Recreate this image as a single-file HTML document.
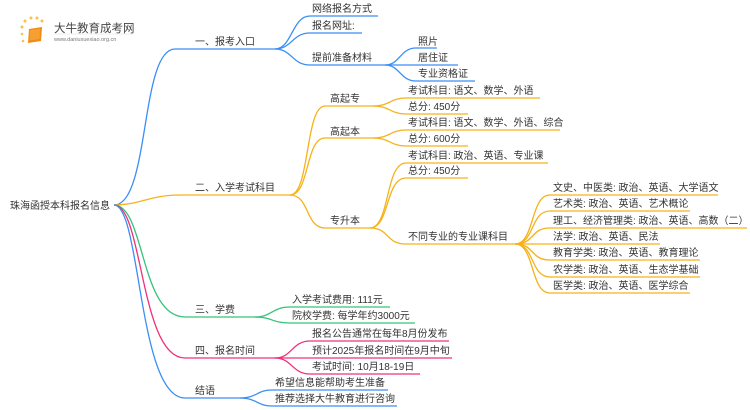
<!DOCTYPE html>
<html><head><meta charset="utf-8"><style>
html,body{margin:0;padding:0;background:#fff;}
svg{display:block;}
text{font-family:"Liberation Sans","Noto Sans CJK SC",sans-serif;font-size:10px;fill:#333;}
</style></head><body>
<svg width="750" height="410" viewBox="0 0 750 410" xmlns="http://www.w3.org/2000/svg">
<g fill="none" stroke-width="1.3">
<path d="M114 205 C150 205,140 49,175 49 L275 49" stroke="#3a8ef6"/>
<path d="M114 205 C140 205,150 195,180 195 L290 195" stroke="#f5b21a"/>
<path d="M114 205 C145 205,140 317,185 317 L255 317" stroke="#34c37a"/>
<path d="M114 205 C143 205,140 358,185 358 L275 358" stroke="#f0307a"/>
<path d="M114 205 C141 205,138 398,185 398 L240 398" stroke="#3a8ef6"/>
<path d="M275 49 C292 49,292 16,310 16 L378 16" stroke="#3a8ef6"/>
<path d="M275 49 C292 49,292 33,310 33 L362 33" stroke="#3a8ef6"/>
<path d="M275 49 C292 49,292 65,310 65 L385 65" stroke="#3a8ef6"/>
<path d="M385 65 C400 65,400 48,416 48 L437 48" stroke="#3a8ef6"/>
<path d="M385 65 L458 65" stroke="#3a8ef6"/>
<path d="M385 65 C400 65,400 81,416 81 L475 81" stroke="#3a8ef6"/>
<path d="M290 195 C310 195,305 106,325 106 L373 106" stroke="#f5b21a"/>
<path d="M290 195 C310 195,305 138,325 138 L373 138" stroke="#f5b21a"/>
<path d="M290 195 C310 195,305 228,325 228 L370 228" stroke="#f5b21a"/>
<path d="M373 106 C390 106,390 98,406 98 L540 98" stroke="#f5b21a"/>
<path d="M373 106 C390 106,390 114,406 114 L468 114" stroke="#f5b21a"/>
<path d="M373 138 C390 138,390 130,406 130 L560 130" stroke="#f5b21a"/>
<path d="M373 138 C390 138,390 146,406 146 L468 146" stroke="#f5b21a"/>
<path d="M370 228 C390 228,385 163,406 163 L548 163" stroke="#f5b21a"/>
<path d="M370 228 C390 228,385 178,406 178 L468 178" stroke="#f5b21a"/>
<path d="M370 228 C390 228,385 244,406 244 L515 244" stroke="#f5b21a"/>
<path d="M515 244 C535 244,530 195,550 195 L718 195" stroke="#f5b21a"/>
<path d="M515 244 C535 244,530 211,550 211 L690 211" stroke="#f5b21a"/>
<path d="M515 244 C535 244,530 228,550 228 L747 228" stroke="#f5b21a"/>
<path d="M515 244 L660 244" stroke="#f5b21a"/>
<path d="M515 244 C535 244,530 260,550 260 L700 260" stroke="#f5b21a"/>
<path d="M515 244 C535 244,530 277,550 277 L700 277" stroke="#f5b21a"/>
<path d="M515 244 C535 244,530 293,550 293 L690 293" stroke="#f5b21a"/>
<path d="M255 317 C272 317,272 307,290 307 L390 307" stroke="#34c37a"/>
<path d="M255 317 C272 317,272 323,290 323 L415 323" stroke="#34c37a"/>
<path d="M275 358 C292 358,292 341,310 341 L449 341" stroke="#f0307a"/>
<path d="M275 358 L452 358" stroke="#f0307a"/>
<path d="M275 358 C292 358,292 374,310 374 L420 374" stroke="#f0307a"/>
<path d="M240 398 C257 398,257 390,272 390 L388 390" stroke="#3a8ef6"/>
<path d="M240 398 C257 398,257 406,272 406 L397 406" stroke="#3a8ef6"/>
</g>
<g>
<circle cx="22" cy="27" r="1.5" fill="#f7c14a"/><circle cx="25" cy="21" r="1.5" fill="#f7c14a"/><circle cx="31" cy="18" r="1.5" fill="#f7c14a"/><circle cx="37" cy="18" r="1.5" fill="#f7c14a"/><circle cx="42" cy="21" r="1.5" fill="#f7c14a"/><circle cx="22" cy="34" r="1.3" fill="#f7c14a"/><circle cx="23" cy="41" r="1.3" fill="#f7c14a"/>
<path d="M29 29 L42 27 L41 41 L28 43 Z" fill="#f08a14"/>
<path d="M30 30 L40 28.5 L39.5 39 L29.5 40.5 Z" fill="#f5a030"/>
<text x="54" y="32" style="font-size:11.5px;fill:#444">大牛教育成考网</text>
<text x="54" y="41" style="font-size:5.5px;fill:#777">www.daniuxuexiao.org.cn</text>
<line x1="54" y1="34" x2="132" y2="34" stroke="#ddd" stroke-width="0.5"/>
</g>
<text x="10" y="209">珠海函授本科报名信息</text>
<text x="195" y="45">一、报考入口</text>
<text x="195" y="191">二、入学考试科目</text>
<text x="195" y="313">三、学费</text>
<text x="195" y="354">四、报名时间</text>
<text x="195" y="394">结语</text>
<text x="312" y="12">网络报名方式</text>
<text x="312" y="29">报名网址:</text>
<text x="312" y="61">提前准备材料</text>
<text x="418" y="45">照片</text>
<text x="418" y="61">居住证</text>
<text x="418" y="77">专业资格证</text>
<text x="330" y="102">高起专</text>
<text x="330" y="135">高起本</text>
<text x="330" y="224">专升本</text>
<text x="408" y="94">考试科目: 语文、数学、外语</text>
<text x="408" y="110">总分: 450分</text>
<text x="408" y="126">考试科目: 语文、数学、外语、综合</text>
<text x="408" y="142">总分: 600分</text>
<text x="408" y="159">考试科目: 政治、英语、专业课</text>
<text x="408" y="174">总分: 450分</text>
<text x="408" y="240">不同专业的专业课科目</text>
<text x="553" y="191">文史、中医类: 政治、英语、大学语文</text>
<text x="553" y="207">艺术类: 政治、英语、艺术概论</text>
<text x="553" y="224">理工、经济管理类: 政治、英语、高数（二）</text>
<text x="553" y="240">法学: 政治、英语、民法</text>
<text x="553" y="256">教育学类: 政治、英语、教育理论</text>
<text x="553" y="273">农学类: 政治、英语、生态学基础</text>
<text x="553" y="289">医学类: 政治、英语、医学综合</text>
<text x="292" y="303">入学考试费用: 111元</text>
<text x="292" y="319">院校学费: 每学年约3000元</text>
<text x="312" y="337">报名公告通常在每年8月份发布</text>
<text x="312" y="354">预计2025年报名时间在9月中旬</text>
<text x="312" y="370">考试时间: 10月18-19日</text>
<text x="275" y="386">希望信息能帮助考生准备</text>
<text x="275" y="402">推荐选择大牛教育进行咨询</text>
</svg>
</body></html>
